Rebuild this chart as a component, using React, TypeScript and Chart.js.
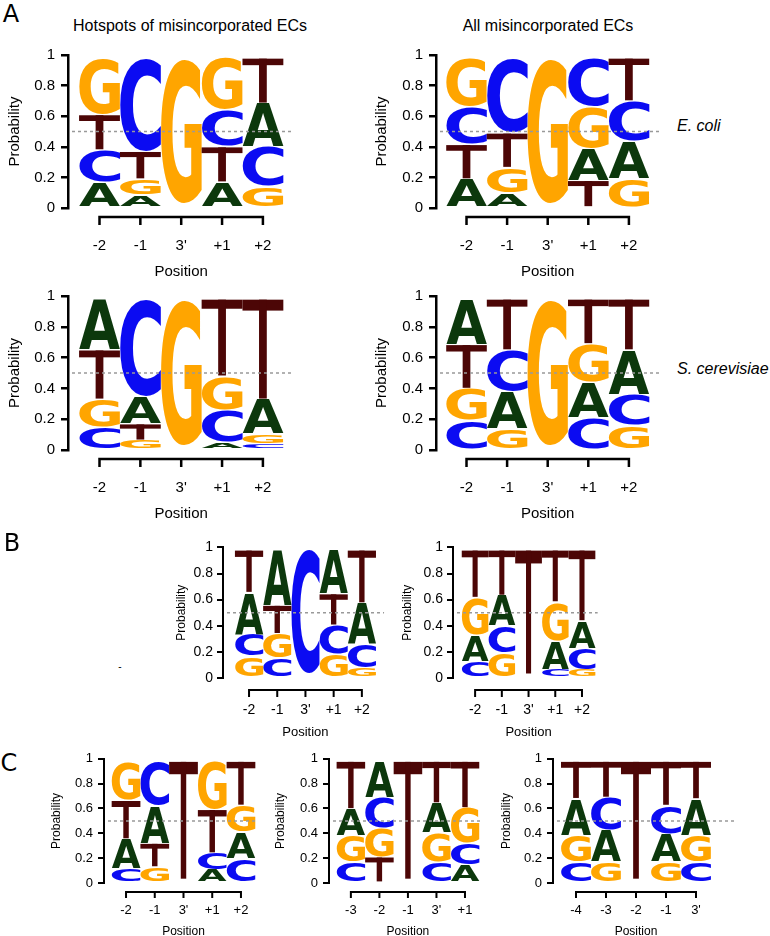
import React, { useEffect, useRef } from "react";
import { Chart, registerables } from "chart.js";

Chart.register(...registerables);

const FONT = '"Liberation Sans", Arial, Helvetica, sans-serif';
const LETTER_FONT = 'bold 200px "DejaVu Sans", "Liberation Sans", sans-serif';
Chart.defaults.font.family = FONT;
Chart.defaults.color = "#000";

const LETTERS = ["A", "C", "G", "T"];
const LETTER_COLORS: Record<string, string> = {
  A: "#0c380c",
  C: "#0b0bf2",
  G: "#ffa500",
  T: "#4c0606",
};

// position (tick) labels
const POS_FIVE = ["-2", "-1", "3'", "+1", "+2"];
const POS_UP3 = ["-3", "-2", "-1", "3'", "+1"];
const POS_UP4 = ["-4", "-3", "-2", "-1", "3'"];

// Panel A, E. coli, hotspots of misincorporated ECs
const ecoliHotspots = {
  A: [0.17, 0.085, 0.01, 0.17, 0.285],
  C: [0.21, 0.61, 0.01, 0.24, 0.26],
  G: [0.37, 0.105, 0.95, 0.34, 0.14],
  T: [0.23, 0.18, 0.01, 0.23, 0.295],
};
// Panel A, E. coli, all misincorporated ECs
const ecoliAll = {
  A: [0.19, 0.095, 0.01, 0.21, 0.245],
  C: [0.245, 0.49, 0.01, 0.32, 0.265],
  G: [0.32, 0.17, 0.95, 0.27, 0.19],
  T: [0.225, 0.225, 0.01, 0.18, 0.28],
};
// Panel A, S. cerevisiae, hotspots
const yeastHotspots = {
  A: [0.33, 0.18, 0.01, 0.05, 0.224],
  C: [0.15, 0.63, 0.01, 0.21, 0.043],
  G: [0.18, 0.064, 0.95, 0.22, 0.063],
  T: [0.32, 0.106, 0.01, 0.5, 0.65],
};
// Panel A, S. cerevisiae, all
const yeastAll = {
  A: [0.295, 0.24, 0.01, 0.23, 0.29],
  C: [0.195, 0.27, 0.01, 0.21, 0.2],
  G: [0.205, 0.14, 0.95, 0.25, 0.16],
  T: [0.285, 0.33, 0.01, 0.29, 0.33],
};
// Panel B, left
const panelB1 = {
  A: [0.32, 0.423, 0.01, 0.335, 0.315],
  C: [0.17, 0.15, 0.95, 0.225, 0.185],
  G: [0.165, 0.19, 0.01, 0.18, 0.075],
  T: [0.325, 0.217, 0.01, 0.24, 0.405],
};
// Panel B, right
const panelB2 = {
  A: [0.2, 0.233, 0.01, 0.22, 0.21],
  C: [0.127, 0.21, 0.01, 0.063, 0.165],
  G: [0.29, 0.19, 0.01, 0.3, 0.063],
  T: [0.363, 0.347, 0.95, 0.397, 0.542],
};
// Panel C, left
const panelC1 = {
  A: [0.24, 0.3, 0.01, 0.107, 0.21],
  C: [0.115, 0.36, 0.01, 0.135, 0.196],
  G: [0.315, 0.13, 0.01, 0.388, 0.22],
  T: [0.31, 0.19, 0.95, 0.35, 0.354],
};
// Panel C, middle
const panelC2 = {
  A: [0.215, 0.29, 0.01, 0.24, 0.142],
  C: [0.17, 0.245, 0.01, 0.17, 0.174],
  G: [0.213, 0.235, 0.01, 0.235, 0.29],
  T: [0.382, 0.21, 0.95, 0.335, 0.374],
};
// Panel C, right
const panelC3 = {
  A: [0.297, 0.255, 0.01, 0.225, 0.295],
  C: [0.17, 0.265, 0.01, 0.23, 0.17],
  G: [0.213, 0.17, 0.01, 0.17, 0.213],
  T: [0.3, 0.29, 0.95, 0.355, 0.302],
};

// ---- layout / styles ----
const STYLE_A = { tickFont: 15, probFont: 15, posFont: 15, lw: 2.5, yTickLen: 7, yTickPad: 6, axisGap: 9, xTickLen: 8, xLabelOff: 38, posOff: 64 };
const STYLE_B = { tickFont: 14, probFont: 12, posFont: 13, lw: 2, yTickLen: 6, yTickPad: 4, axisGap: 12, xTickLen: 7, xLabelOff: 32, posOff: 54 };
const STYLE_C = { tickFont: 13, probFont: 12, posFont: 12, lw: 2, yTickLen: 6, yTickPad: 5, axisGap: 9, xTickLen: 6, xLabelOff: 27, posOff: 49 };

const PANELS = [
  { key: "a1", probs: ecoliHotspots, labels: POS_FIVE, style: STYLE_A, axisX: 68, c1: 100, sp: 41.5, right: 297, y1: 52, y0: 208, probX: 15 },
  { key: "a2", probs: ecoliAll, labels: POS_FIVE, style: STYLE_A, axisX: 436, c1: 467, sp: 41.25, right: 663, y1: 52, y0: 208, probX: 382 },
  { key: "a3", probs: yeastHotspots, labels: POS_FIVE, style: STYLE_A, axisX: 68, c1: 100, sp: 41.5, right: 297, y1: 293, y0: 450, probX: 15 },
  { key: "a4", probs: yeastAll, labels: POS_FIVE, style: STYLE_A, axisX: 436, c1: 467, sp: 41.25, right: 663, y1: 293, y0: 450, probX: 382 },
  { key: "b1", probs: panelB1, labels: POS_FIVE, style: STYLE_B, axisX: 223, c1: 250, sp: 29.25, right: 390, y1: 547, y0: 678, probX: 182 },
  { key: "b2", probs: panelB2, labels: POS_FIVE, style: STYLE_B, axisX: 453, c1: 477, sp: 29, right: 610, y1: 547, y0: 678, probX: 408 },
  { key: "c1", probs: panelC1, labels: POS_FIVE, style: STYLE_C, axisX: 104, c1: 127, sp: 30, right: 264, y1: 758, y0: 883, probX: 57 },
  { key: "c2", probs: panelC2, labels: POS_UP3, style: STYLE_C, axisX: 329, c1: 352, sp: 30, right: 488, y1: 758, y0: 883, probX: 281 },
  { key: "c3", probs: panelC3, labels: POS_UP4, style: STYLE_C, axisX: 553, c1: 576, sp: 30, right: 735, y1: 758, y0: 883, probX: 507 },
];

function stackRanges(probs: Record<string, number[]>) {
  const n = probs.A.length;
  const out: Record<string, number[][]> = { A: [], C: [], G: [], T: [] };
  for (let i = 0; i < n; i++) {
    const order = LETTERS.slice().sort((a, b) => probs[a][i] - probs[b][i]);
    let acc = 0;
    for (const L of order) {
      out[L][i] = [acc, acc + probs[L][i]];
      acc += probs[L][i];
    }
  }
  return out;
}

function drawLetter(ctx: CanvasRenderingContext2D, L: string, color: string, x: number, y: number, w: number, h: number) {
  ctx.save();
  ctx.fillStyle = color;
  if (L === "T") {
    // thin-stemmed T as in the logo
    const bar = Math.min(h * 0.08 + 3, h * 0.3);
    const stem = w * 0.19;
    ctx.fillRect(x, y, w, bar);
    ctx.fillRect(x + (w - stem) / 2, y, stem, h);
    ctx.restore();
    return;
  }
  ctx.font = LETTER_FONT;
  ctx.textAlign = "left";
  ctx.textBaseline = "alphabetic";
  const m = ctx.measureText(L);
  const gl = m.actualBoundingBoxLeft;
  const gr = m.actualBoundingBoxRight;
  const ga = m.actualBoundingBoxAscent;
  const gd = m.actualBoundingBoxDescent;
  const gw = gl + gr;
  const gh = ga + gd;
  ctx.translate(x, y);
  ctx.scale(w / gw, h / gh);
  ctx.fillText(L, gl, ga);
  ctx.restore();
}

const logoPlugin = {
  id: "logo",
  afterDatasetsDraw(chart: any, _args: any, opts: any) {
    const ctx: CanvasRenderingContext2D = chart.ctx;
    const xs = chart.scales.x;
    const ys = chart.scales.y;
    const inset = 0.6;
    chart.data.datasets.forEach((ds: any, di: number) => {
      const meta = chart.getDatasetMeta(di);
      meta.data.forEach((bar: any) => {
        const p = bar.getProps(["x", "y", "base", "width"], true);
        const top = Math.min(p.y, p.base);
        const bottom = Math.max(p.y, p.base);
        const h = bottom - top - inset * 2;
        if (h < 2) return;
        drawLetter(ctx, ds.label, LETTER_COLORS[ds.label], p.x - p.width / 2, top + inset, p.width, h);
      });
    });
    // dashed reference line at 0.5
    const y05 = ys.getPixelForValue(0.5);
    ctx.save();
    ctx.setLineDash([3, 3]);
    ctx.strokeStyle = "#999999";
    ctx.lineWidth = 1.5;
    ctx.beginPath();
    ctx.moveTo(chart.chartArea.left + 4, y05);
    ctx.lineTo(chart.chartArea.right, y05);
    ctx.stroke();
    ctx.restore();
    // R-style x axis
    const n = opts.n;
    const y0 = ys.getPixelForValue(0);
    const ay = y0 + opts.axisGap;
    const xa = xs.getPixelForValue(1);
    const xb = xs.getPixelForValue(n);
    ctx.save();
    ctx.strokeStyle = "#000";
    ctx.lineWidth = opts.lw;
    ctx.beginPath();
    ctx.moveTo(xa - opts.lw / 2, ay);
    ctx.lineTo(xb + opts.lw / 2, ay);
    for (let i = 1; i <= n; i++) {
      const xi = xs.getPixelForValue(i);
      ctx.moveTo(xi, ay);
      ctx.lineTo(xi, ay + opts.xTickLen);
    }
    ctx.stroke();
    ctx.fillStyle = "#000";
    ctx.font = `${opts.posFont}px ${FONT}`;
    ctx.textAlign = "center";
    ctx.textBaseline = "middle";
    ctx.fillText("Position", xs.getPixelForValue((n + 1) / 2), y0 + opts.posOff);
    ctx.restore();
  },
};

function LogoPanel({ p }: { p: any }) {
  const ref = useRef<HTMLCanvasElement>(null);
  const s = p.style;
  const padTop = 12;
  const probLH = s.probFont * 1.2;
  const left = Math.floor(p.probX - probLH / 2) - 1;
  const top = p.y1 - padTop;
  const Wy = p.axisX - left;
  const Hx = s.posOff + 14;
  const width = Math.ceil(p.right + 4 - left);
  const height = Math.ceil(p.y0 + Hx - top);
  const padRight = width - (p.right - left);
  const titlePad = p.probX - left - probLH / 2;
  const tickLH = s.tickFont * 1.2;

  useEffect(() => {
    const ranges = stackRanges(p.probs);
    const n = p.labels.length;
    const xmin = 1 - (p.c1 - p.axisX) / p.sp;
    const xmax = 1 + (p.right - p.c1) / p.sp;
    const chart = new Chart(ref.current as HTMLCanvasElement, {
      type: "bar",
      data: {
        datasets: LETTERS.map((L) => ({
          label: L,
          data: p.labels.map((_: string, i: number) => ({ x: i + 1, y: ranges[L][i] })),
          backgroundColor: "rgba(0,0,0,0)",
          borderWidth: 0,
          grouped: false,
          barPercentage: 1,
          categoryPercentage: 1,
        })),
      } as any,
      options: {
        responsive: false,
        animation: false,
        devicePixelRatio: 1,
        events: [],
        layout: { padding: { top: padTop, right: padRight, left: 0, bottom: 0 } },
        plugins: {
          legend: { display: false },
          tooltip: { enabled: false },
          logo: { ...s, n },
        } as any,
        scales: {
          x: {
            type: "linear",
            min: xmin,
            max: xmax,
            bounds: "data",
            offset: false,
            afterBuildTicks: (sc: any) => {
              sc.ticks = p.labels.map((_: string, i: number) => ({ value: i + 1 }));
            },
            afterFit: (sc: any) => {
              sc.height = Hx;
            },
            ticks: {
              autoSkip: false,
              maxRotation: 0,
              minRotation: 0,
              color: "#000",
              padding: s.xLabelOff - tickLH / 2,
              font: { size: s.tickFont, family: FONT },
              callback: (v: any) => p.labels[Math.round(Number(v)) - 1] ?? "",
            },
            grid: { display: false, drawTicks: false },
            border: { display: false },
          },
          y: {
            type: "linear",
            min: 0,
            max: 1,
            afterFit: (sc: any) => {
              sc.width = Wy;
            },
            ticks: {
              stepSize: 0.2,
              color: "#000",
              padding: s.yTickPad,
              font: { size: s.tickFont, family: FONT },
              callback: (v: any) => String(Number(Number(v).toFixed(1))),
            },
            grid: {
              display: true,
              drawOnChartArea: false,
              drawTicks: true,
              tickLength: s.yTickLen,
              color: "#000",
              lineWidth: s.lw,
            },
            border: { display: true, color: "#000", width: s.lw },
            title: {
              display: true,
              text: "Probability",
              color: "#000",
              font: { size: s.probFont, family: FONT },
              padding: { top: titlePad, bottom: 0 },
            },
          },
        },
      } as any,
      plugins: [logoPlugin as any],
    });
    return () => chart.destroy();
  }, []);

  return (
    <canvas
      ref={ref}
      width={width}
      height={height}
      style={{ position: "absolute", left, top, width, height }}
    />
  );
}

function Txt({ x, y, text, size, italic, family, align }: any) {
  const transform = align === "left" ? "translate(0,-50%)" : "translate(-50%,-50%)";
  return (
    <div
      style={{
        position: "absolute",
        left: x,
        top: y,
        transform,
        fontSize: size,
        fontFamily: family || FONT,
        fontStyle: italic ? "italic" : "normal",
        lineHeight: 1,
        whiteSpace: "nowrap",
        color: "#000",
      }}
    >
      {text}
    </div>
  );
}

export default function App() {
  return (
    <div style={{ position: "absolute", left: 0, top: 0, width: 770, height: 936, background: "#fff", overflow: "hidden" }}>
      {PANELS.map((p) => (
        <LogoPanel key={p.key} p={p} />
      ))}
      <Txt x={11} y={14} text="A" size={24} family='"DejaVu Sans", sans-serif' />
      <Txt x={12} y={543} text="B" size={24} family='"DejaVu Sans", sans-serif' />
      <Txt x={9} y={763} text="C" size={24} family='"DejaVu Sans", sans-serif' />
      <Txt x={190} y={26} text="Hotspots of misincorporated ECs" size={16} />
      <Txt x={548} y={26} text="All misincorporated ECs" size={16} />
      <Txt x={677} y={126} text="E. coli" size={16} italic align="left" />
      <Txt x={677} y={369} text="S. cerevisiae" size={16} italic align="left" />
      <Txt x={120} y={667} text="-" size={10} />
    </div>
  );
}
